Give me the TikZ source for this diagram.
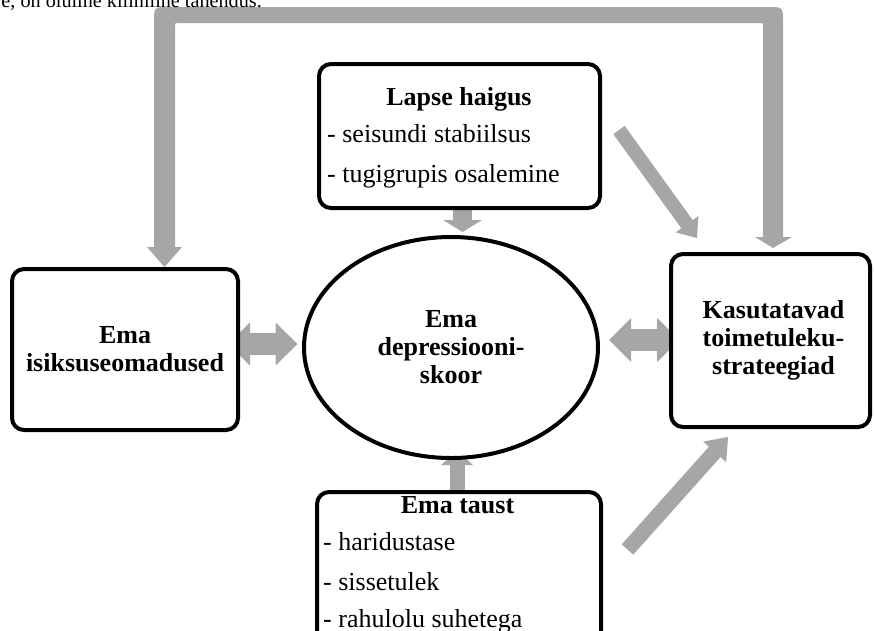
\documentclass[tikz,border=0pt]{standalone}
\usepackage{fontspec}
\setmainfont{Liberation Serif}
\usetikzlibrary{arrows.meta,shapes.geometric}
\definecolor{agray}{RGB}{166,166,166}
\pgfdeclarelayer{bg}
\pgfsetlayers{bg,main}
\tikzset{
  box/.style={draw, line width=4pt, rounded corners=12pt, fill=white, inner sep=0pt, outer sep=0pt},
  titlef/.style={font=\fontsize{26}{28}\selectfont\bfseries},
  listf/.style={font=\fontsize{26}{28}\selectfont, inner sep=0pt, anchor=base west},
  garrow/.style={draw=agray, line width=#1},
}
\begin{document}
\begin{tikzpicture}[x=1pt,y=-1pt]
\useasboundingbox (0,0) rectangle (874,630);
\clip (0,0) rectangle (874,630);

% cut-off text line at the top
\node[font=\fontsize{20.2}{22}\selectfont, anchor=base east, inner sep=0pt] (toptext) at (262,7) {e, on oluline kliiniline tähendus.};

% nodes
\node[box, minimum width=226pt, minimum height=161pt, align=center, titlef] (pers) at (125,349.5) {Ema\\isiksuseomadused};
\node[draw, ellipse, line width=4pt, fill=white, minimum width=294pt, minimum height=221pt, inner sep=0pt, outer sep=0pt, align=center, titlef] (dep) at (451,347.5) {Ema\\depressiooni-\\skoor};
\node[box, minimum width=199pt, minimum height=173pt, align=center, titlef] (cop) at (770.5,340.5) {\hspace*{6pt}Kasutatavad\\\hspace*{6pt}toimetuleku-\\\hspace*{6pt}strateegiad};

\node[box, minimum width=281pt, minimum height=144pt] (ill) at (459.5,136) {};
\node[titlef, anchor=base, inner sep=0pt] (illT) at (459,105) {Lapse haigus};
\node[listf] (ill1) at (327,142) {- seisundi stabiilsus};
\node[listf] (ill2) at (327,182) {- tugigrupis osalemine};

\node[box, minimum width=284pt, minimum height=188pt] (bgd) at (459,586) {};
\node[titlef, anchor=base, inner sep=0pt] (bgdT) at (457.5,513) {Ema taust};
\node[listf] (bgd1) at (323,550) {- haridustase};
\node[listf] (bgd2) at (323,590) {- sissetulek};
\node[listf] (bgd3) at (323,627) {- rahulolu suhetega};

\begin{pgfonlayer}{bg}
% top box -> ellipse
\draw[garrow=19pt, -{Triangle[width=39pt,length=12pt,line width=0pt]}]
  ([xshift=3pt]ill.south) -- ([xshift=11.5pt,yshift=5pt]dep.north);
% bottom box -> ellipse
\draw[garrow=15pt, -{Triangle[width=32pt,length=14pt,line width=0pt]}]
  ([xshift=-2pt]bgd.north) -- ([xshift=6pt,yshift=7pt]dep.south);
% double arrows
\draw[garrow=22pt, {Triangle[width=43pt,length=22pt,line width=0pt]}-{Triangle[width=43pt,length=22pt,line width=0pt]}]
  ([xshift=-10pt,yshift=5.5pt]pers.east) -- ([xshift=-6.5pt,yshift=3.5pt]dep.west);
\draw[garrow=22pt, {Triangle[width=44pt,length=22pt,line width=0pt]}-{Triangle[width=44pt,length=22pt,line width=0pt]}]
  ([xshift=11pt,yshift=7.5pt]dep.east) -- ([xshift=8pt,yshift=0.5pt]cop.west);
% diagonal arrows
\draw[garrow=14pt, -{Triangle[width=28pt,length=17pt,line width=0pt]}]
  ([xshift=19pt,yshift=6pt]ill.east) -- ([xshift=26pt,yshift=16pt]cop.north west);
\draw[garrow=15.5pt, -{Triangle[width=31pt,length=20pt,line width=0pt]}]
  ([xshift=26.5pt,yshift=36.5pt]bgd.east) -- ([xshift=57pt,yshift=-10pt]cop.south west);
% feedback loop across the top
\fill[agray] (175,247) -- (182,247) -- (164.5,267) -- (147,247) -- (154,247)
  -- (154,22) .. controls (154,7) .. (169,7) -- (768,7) .. controls (783,7) .. (783,22)
  -- (783,237) -- (792,237) -- (773,248) -- (755,237) -- (763,237)
  -- (763,26) .. controls (763,23) .. (760,23) -- (178,23) .. controls (175,23) .. (175,26) -- cycle;
\end{pgfonlayer}
\end{tikzpicture}
\end{document}
